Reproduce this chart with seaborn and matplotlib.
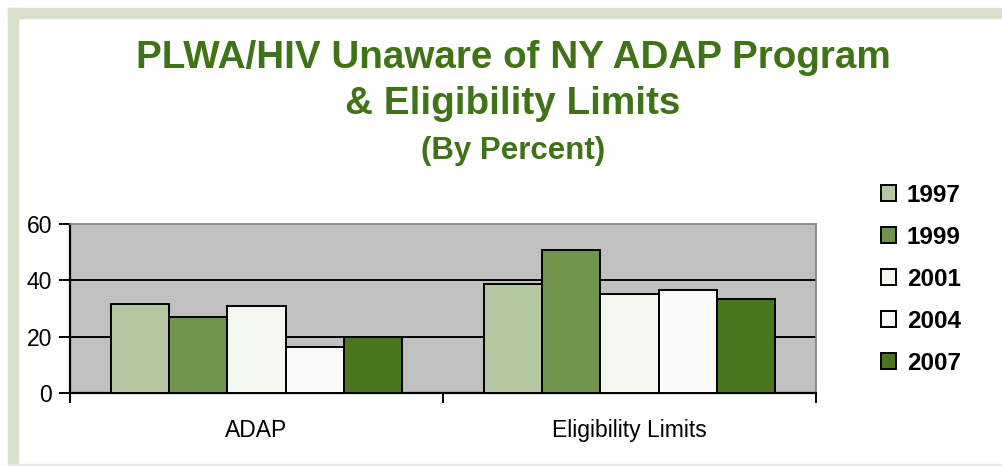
import pandas as pd
import numpy as np
import matplotlib.pyplot as plt
import seaborn as sns
from matplotlib.patches import Rectangle

categories = ['ADAP', 'Eligibility Limits']
years = ['1997', '1999', '2001', '2004', '2007']
adap = [31.6, 26.9, 30.9, 16.2, 19.8]
eligibility = [38.7, 50.9, 35.2, 36.7, 33.2]
colors = ['#B5C7A0', '#70944C', '#F4F6F0', '#FAFAF8', '#4A761E']

rows = []
for i, y in enumerate(years):
    rows.append({'category': categories[0], 'year': y, 'value': adap[i]})
    rows.append({'category': categories[1], 'year': y, 'value': eligibility[i]})
df = pd.DataFrame(rows)

sns.set_style('white')
plt.rcParams['font.family'] = ['Liberation Sans', 'DejaVu Sans']
plt.rcParams['text.color'] = 'black'
plt.rcParams['xtick.color'] = 'black'
plt.rcParams['ytick.color'] = 'black'

fig = plt.figure(figsize=(10.02, 4.66), dpi=100)
W, H = 1002, 466

# light green frame on the left / top edge
frame_col = '#D8E0CC'
fig.patches.append(Rectangle((8 / W, 0), 10 / W, 458 / H, transform=fig.transFigure,
                             color=frame_col, zorder=0))
fig.patches.append(Rectangle((8 / W, 448 / H), 994 / W, 10 / H, transform=fig.transFigure,
                             color=frame_col, zorder=0))
fig.patches.append(Rectangle((8 / W, 0), 994 / W, 2 / H, transform=fig.transFigure,
                             color='#E6E9DE', zorder=0))

ax = fig.add_axes([70 / W, 73 / H, 746 / W, 169 / H])
ax.set_facecolor('#C0C0C0')

sns.barplot(data=df, x='category', y='value', hue='year', order=categories,
            hue_order=years, palette=colors, width=0.78, edgecolor='black',
            linewidth=1.4, saturation=1, ax=ax, zorder=3)

ax.set_ylim(0, 60)
ax.set_xlim(-0.5, 1.5)
ax.set_yticks([0, 20, 40, 60])
for yv in [20, 40]:
    ax.axhline(yv, color='black', lw=1.4, zorder=1)

ax.set_xticks([-0.5, 0.5, 1.5])
ax.set_xticklabels([])
ax.set_xticks([0, 1], minor=True)
ax.set_xticklabels(categories, minor=True, fontsize=16.5)
ax.tick_params(axis='x', which='major', bottom=True, direction='out', length=7,
               width=1.4, color='black')
ax.tick_params(axis='x', which='minor', bottom=True, length=0, pad=19,
               labelcolor='black')
ax.tick_params(axis='y', left=True, direction='out', length=8, width=1.4, color='black',
               labelsize=16.5, pad=5, labelcolor='black')
ax.set_xlabel('')
ax.set_ylabel('')

for s in ['left', 'bottom']:
    ax.spines[s].set_color('black')
    ax.spines[s].set_linewidth(1.6)
for s in ['top', 'right']:
    ax.spines[s].set_color('#808080')
    ax.spines[s].set_linewidth(1.2)

handles, labels = ax.get_legend_handles_labels()
leg = ax.legend(handles, labels, loc='upper left', bbox_to_anchor=(859 / W, 1 - 162 / H),
                bbox_transform=fig.transFigure, frameon=False, handlelength=0.62,
                handleheight=0.62, handletextpad=0.45, labelspacing=0.78,
                prop={'weight': 'bold', 'size': 17.5})
for t in leg.get_texts():
    t.set_color('black')

title_col = '#3F7316'
fig.text(513 / W, 1 - 58 / H, 'PLWA/HIV Unaware of NY ADAP Program', ha='center',
         va='center', fontsize=27.8, fontweight='bold', color=title_col)
fig.text(513 / W, 1 - 104 / H, '& Eligibility Limits', ha='center', va='center',
         fontsize=27.8, fontweight='bold', color=title_col)
fig.text(513 / W, 1 - 151 / H, '(By Percent)', ha='center', va='center',
         fontsize=22.5, fontweight='bold', color=title_col)

fig.savefig('out.png', dpi=100)
